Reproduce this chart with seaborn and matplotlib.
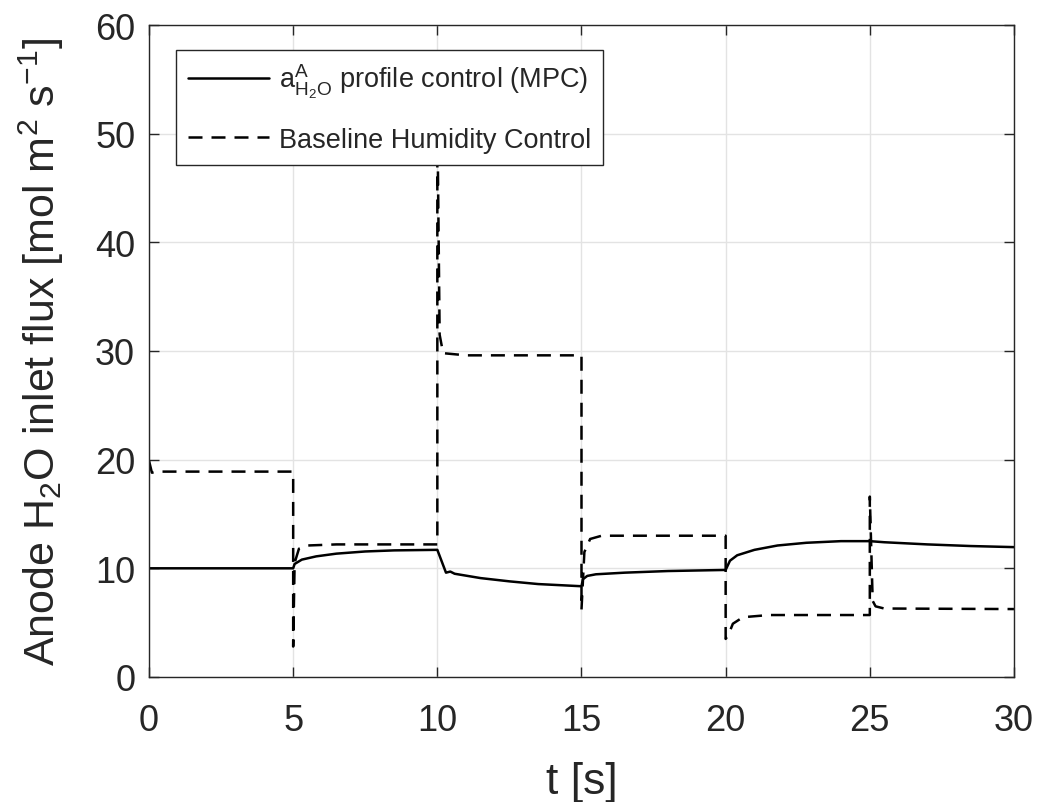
import matplotlib
matplotlib.use("Agg")
import matplotlib.pyplot as plt
import seaborn as sns
import pandas as pd

# MPC (a_H2O profile control) series
t_mpc = [0, 5.0, 5.05, 5.3, 5.8, 6.5, 7.5, 8.5, 10.0, 10.3, 10.45, 10.6, 11.5, 12.5, 13.5, 15.0,
         15.05, 15.2, 15.5, 16.5, 18.0, 20.0, 20.15, 20.4, 21.0, 21.8, 22.8, 24.0, 25.0, 25.5,
         27.0, 28.5, 30.0]
v_mpc = [10.0, 10.0, 10.4, 10.8, 11.1, 11.35, 11.55, 11.65, 11.7, 9.6, 9.7, 9.5, 9.1, 8.8, 8.55, 8.35,
         9.0, 9.3, 9.45, 9.6, 9.75, 9.85, 10.7, 11.2, 11.7, 12.1, 12.35, 12.5, 12.5, 12.4,
         12.2, 12.05, 11.95]

# Baseline humidity control series
t_base = [0, 0.1, 0.3, 5.0, 5.0, 5.05, 5.2, 5.5, 6.5, 10.0, 10.0, 10.08, 10.2, 11.0, 15.0,
          15.0, 15.1, 15.3, 15.7, 20.0, 20.0, 20.1, 20.25, 20.6, 21.5, 25.0, 25.0, 25.1,
          25.2, 25.5, 30.0]
v_base = [19.9, 18.8, 18.9, 18.9, 2.8, 10.5, 11.8, 12.1, 12.2, 12.2, 52.0, 31.5, 29.8, 29.6, 29.6,
          6.2, 11.5, 12.7, 13.0, 13.0, 3.5, 3.9, 4.9, 5.5, 5.7, 5.7, 16.6, 7.0,
          6.5, 6.3, 6.25]

x_ticks = [0, 5, 10, 15, 20, 25, 30]
y_ticks = [0, 10, 20, 30, 40, 50, 60]

lab_mpc = r"$\mathrm{a}^{\mathrm{A}}_{\mathrm{H}_{2}\mathrm{O}}$ profile control (MPC)"
lab_base = "Baseline Humidity Control"

sns.set_theme(style="whitegrid")
plt.rcParams["font.family"] = ["Liberation Sans", "DejaVu Sans"]
plt.rcParams["mathtext.fontset"] = "custom"
plt.rcParams["mathtext.rm"] = "Liberation Sans"
plt.rcParams["mathtext.it"] = "Liberation Sans"
plt.rcParams["mathtext.bf"] = "Liberation Sans:bold"

df_m = pd.DataFrame({"t": t_mpc, "v": v_mpc})
df_b = pd.DataFrame({"t": t_base, "v": v_base})

fig = plt.figure(figsize=(10.45, 8.03), dpi=100)
ax = fig.add_axes([0.1426, 0.1557, 0.8277, 0.8119])

sns.lineplot(data=df_m, x="t", y="v", ax=ax, estimator=None, sort=False,
             color="black", linewidth=1.8, label=lab_mpc)
sns.lineplot(data=df_b, x="t", y="v", ax=ax, estimator=None, sort=False,
             color="black", linewidth=1.8, linestyle=(0, (5.6, 3.6)), label=lab_base)

ax.set_xlim(0, 30)
ax.set_ylim(0, 60)
ax.set_xticks(x_ticks)
ax.set_yticks(y_ticks)
ax.grid(True, color="#e3e3e3", linewidth=1.0)
ax.set_facecolor("white")
for s in ax.spines.values():
    s.set_color("#262626")
    s.set_linewidth(1.0)
    s.set_visible(True)
ax.tick_params(axis="both", which="both", direction="in", length=7, width=1.0,
               colors="#262626", labelsize=26, top=True, right=True,
               bottom=True, left=True)
ax.tick_params(axis="x", pad=19)
ax.tick_params(axis="y", pad=10)

ax.set_xlabel("t [s]", fontsize=32, color="#262626", labelpad=16)
ax.set_ylabel(r"Anode H$_{2}$O inlet flux [mol m$^{2}$ s$^{-1}$]", fontsize=31,
              color="#262626", labelpad=21)

leg = ax.legend(loc="upper left", bbox_to_anchor=(0.031, 0.962), borderaxespad=0,
                fontsize=19.5, frameon=True, fancybox=False, framealpha=1,
                edgecolor="#262626", handlelength=3.0, handletextpad=0.35,
                borderpad=0.45, labelspacing=0.98)
leg.get_frame().set_linewidth(1.0)

fig.savefig("out.png", dpi=100)
